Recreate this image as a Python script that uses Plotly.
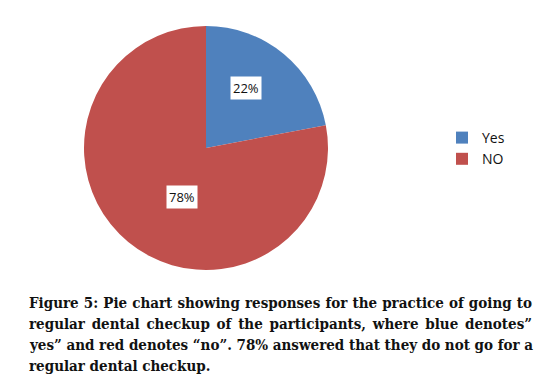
import math
import json
import plotly.graph_objects as go

labels = ["Yes", "NO"]
values = [22, 78]
colors = ["#4F81BD", "#C0504D"]
caption_lines = [
    "Figure 5: Pie chart showing responses for the practice of going to",
    "regular dental checkup of the participants, where blue denotes\u201d",
    "yes\u201d and red denotes \u201cno\u201d. 78% answered that they do not go for a",
    "regular dental checkup.",
]
justified = caption_lines[:3]

W, H = 559, 384
cx, cy, R = 206, 148, 122
dom_x = [(cx - R) / W, (cx + R) / W]
dom_y = [1 - (cy + R) / H, 1 - (cy - R) / H]

fig = go.Figure(go.Pie(
    labels=labels, values=values, sort=False, direction="clockwise", rotation=0,
    marker=dict(colors=colors, line=dict(width=0)),
    textinfo="none", hoverinfo="label+percent",
    domain=dict(x=dom_x, y=dom_y),
))

annotations = []
total = sum(values)
cum = 0
rfrac = [0.587, 0.448]
ang_off = [-6, -14]
for i, v in enumerate(values):
    mid = (cum + v / 2) / total * 2 * math.pi + math.radians(ang_off[i])
    cum += v
    r = R * rfrac[i]
    px = cx + r * math.sin(mid)
    py = cy - r * math.cos(mid)
    annotations.append(dict(
        x=px / W, y=1 - py / H, xref="paper", yref="paper",
        xanchor="center", yanchor="middle",
        text=f"{round(v / total * 100)}%", showarrow=False,
        font=dict(family="Open Sans, Liberation Sans", size=13, color="#111"),
        bgcolor="white", borderpad=2,
    ))

y0 = 303
for k, line in enumerate(caption_lines):
    annotations.append(dict(
        x=27 / W, y=1 - (y0 + k * 21) / H, xref="paper", yref="paper",
        xanchor="left", yanchor="middle", text=f"<b>{line}</b>", showarrow=False,
        font=dict(family="DejaVu Serif Condensed, DejaVu Serif", size=15, color="#111"),
    ))

fig.update_layout(
    width=W, height=H, margin=dict(l=0, r=0, t=0, b=0),
    paper_bgcolor="white", plot_bgcolor="white",
    annotations=annotations,
    legend=dict(x=442 / W, y=1 - 122 / H, xanchor="left", yanchor="top",
                font=dict(family="Open Sans, Liberation Sans", size=14, color="#111")),
)

post = """
document.body.style.margin='0';
var J = %s; var target = %d;
document.querySelectorAll('g.annotation text.annotation-text').forEach(function(t){
  var s = t.textContent;
  if (J.indexOf(s) >= 0) {
    var n = (s.match(/ /g) || []).length;
    var b0 = t.getBBox().x;
    var len = t.getComputedTextLength();
    if (n > 0) t.style.wordSpacing = ((target - len) / n) + 'px';
    var b1 = t.getBBox().x;
    var x = parseFloat(t.getAttribute('x') || '0');
    t.setAttribute('x', x + (b0 - b1));
  }
});
""" % (json.dumps(justified), 530 - 27)
fig.write_html("out.html", post_script=post, config={"displayModeBar": False})
